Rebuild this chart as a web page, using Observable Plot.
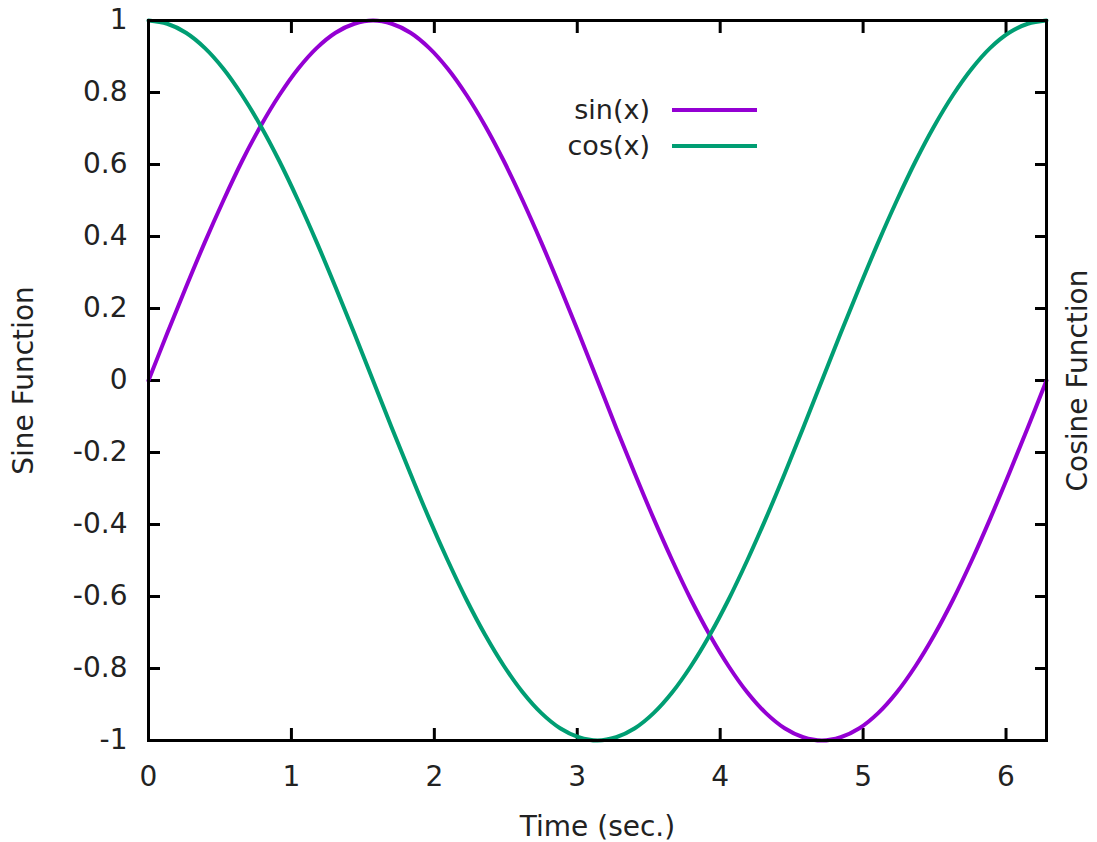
<!DOCTYPE html>
<html><head><meta charset="utf-8">
<script src="https://cdn.jsdelivr.net/npm/d3@7"></script>
<script src="https://cdn.jsdelivr.net/npm/@observablehq/plot@0.6"></script>
<style>
body{margin:0;background:#fff;font-family:"DejaVu Sans",sans-serif;}
#wrap{position:relative;width:1097px;height:842px;}
.leg{position:absolute;font-size:27px;line-height:36px;color:#222;display:flex;align-items:center;}
.leg span.t{display:inline-block;width:160px;text-align:right;}
.leg span.l{display:inline-block;width:85px;height:4px;margin-left:22px;}
</style></head>
<body><div id="wrap"></div>
<script>
const xs = [0,0.131,0.262,0.393,0.524,0.654,0.785,0.916,1.047,1.178,1.309,1.440,1.571,1.702,1.833,1.963,2.094,2.225,2.356,2.487,2.618,2.749,2.880,3.011,3.142,3.272,3.403,3.534,3.665,3.796,3.927,4.058,4.189,4.320,4.451,4.581,4.712,4.843,4.974,5.105,5.236,5.367,5.498,5.629,5.760,5.890,6.021,6.152,6.283];
const sinVals = [0,0.131,0.259,0.383,0.5,0.609,0.707,0.793,0.866,0.924,0.966,0.991,1,
  0.991,0.966,0.924,0.866,0.793,0.707,0.609,0.5,0.383,0.259,0.131,0,
  -0.131,-0.259,-0.383,-0.5,-0.609,-0.707,-0.793,-0.866,-0.924,-0.966,-0.991,-1,
  -0.991,-0.966,-0.924,-0.866,-0.793,-0.707,-0.609,-0.5,-0.383,-0.259,-0.131,0];
const cosVals = [1,0.991,0.966,0.924,0.866,0.793,0.707,0.609,0.5,0.383,0.259,0.131,0,
  -0.131,-0.259,-0.383,-0.5,-0.609,-0.707,-0.793,-0.866,-0.924,-0.966,-0.991,-1,
  -0.991,-0.966,-0.924,-0.866,-0.793,-0.707,-0.609,-0.5,-0.383,-0.259,-0.131,0,
  0.131,0.259,0.383,0.5,0.609,0.707,0.793,0.866,0.924,0.966,0.991,1];
const seriesNames = ["sin(x)","cos(x)"];
const seriesColors = ["#9400d3","#009e73"];
const xTicks = [0,1,2,3,4,5,6];
const yTicks = [-1,-0.8,-0.6,-0.4,-0.2,0,0.2,0.4,0.6,0.8,1];
const xInner = [1,2,3,4,5,6];
const yInner = [-0.8,-0.6,-0.4,-0.2,0,0.2,0.4,0.6,0.8];

const sinData = xs.map((x,i)=>({x, y: sinVals[i]}));
const cosData = xs.map((x,i)=>({x, y: cosVals[i]}));

const chart = Plot.plot({
  width: 1097, height: 842,
  marginLeft: 148, marginRight: 51, marginTop: 20, marginBottom: 102,
  style: {fontFamily: '"DejaVu Sans", sans-serif', fontSize: "28px", color: "#222", background: "#fff", overflow: "visible"},
  x: {domain: [0, 2*Math.PI]},
  y: {domain: [-1, 1]},
  marks: [
    Plot.axisX({ticks: xTicks, tickSize: 0, tickPadding: 26, tickFormat: d => String(d), label: "Time (sec.)", labelAnchor: "center", labelArrow: "none", labelOffset: 95}),
    Plot.axisX({ticks: xInner, tickSize: 12, dy: -12, text: null, label: null, strokeWidth: 3, stroke: "#000"}),
    Plot.axisX({anchor: "top", ticks: xInner, tickSize: 12, dy: 12, text: null, label: null, strokeWidth: 3, stroke: "#000"}),
    Plot.axisY({ticks: yTicks, tickSize: 0, tickPadding: 21, tickFormat: d => String(d), label: "Sine Function", labelAnchor: "center", labelArrow: "none", labelOffset: 135}),
    Plot.axisY({ticks: yInner, tickSize: 12, dx: 12, text: null, label: null, strokeWidth: 3, stroke: "#000"}),
    Plot.axisY({anchor: "right", ticks: yInner, tickSize: 12, dx: -12, text: null, label: null, strokeWidth: 3, stroke: "#000"}),
    Plot.axisY({anchor: "right", ticks: [], label: "Cosine Function", labelAnchor: "center", labelArrow: "none", labelOffset: 40}),
    Plot.line(sinData, {x: "x", y: "y", stroke: seriesColors[0], strokeWidth: 4, curve: "catmull-rom"}),
    Plot.line(cosData, {x: "x", y: "y", stroke: seriesColors[1], strokeWidth: 4, curve: "catmull-rom"}),
    Plot.frame({stroke: "#000", strokeWidth: 3})
  ]
});
const wrap = document.getElementById("wrap");
wrap.appendChild(chart);
seriesNames.forEach((n,i)=>{
  const d = document.createElement("div");
  d.className = "leg";
  d.style.left = "490px";
  d.style.top = (92 + i*36) + "px";
  d.innerHTML = `<span class="t">${n}</span><span class="l" style="background:${seriesColors[i]}"></span>`;
  wrap.appendChild(d);
});
</script></body></html>
